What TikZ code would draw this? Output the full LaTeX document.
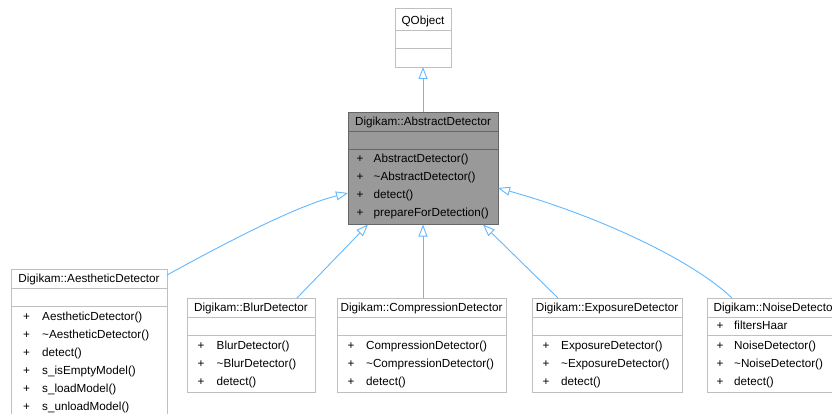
\documentclass[tikz,border=0pt]{standalone}
\usepackage{fontspec}
\setmainfont{Liberation Sans}
\usetikzlibrary{arrows.meta}
\definecolor{edgeblue}{HTML}{63B8FF}
\definecolor{lbord}{HTML}{BFBFBF}
\definecolor{dbord}{HTML}{666666}
\definecolor{dfill}{HTML}{999999}
\begin{document}
\begin{tikzpicture}[x=1pt,y=-1pt,
  font=\fontsize{11.7}{14}\selectfont,
  cls/.style={draw=lbord, fill=white, line width=0.8pt, inner sep=0pt, outer sep=0pt, anchor=north west},
  clsd/.style={cls, draw=dbord, fill=dfill},
  sepl/.style={draw=lbord, line width=0.8pt},
  sepd/.style={draw=dbord, line width=0.8pt},
  ttl/.style={inner sep=0pt, anchor=base},
  mem/.style={inner sep=0pt, anchor=base west},
  pls/.style={inner sep=0pt, anchor=base},
  inh/.style={draw=edgeblue, line width=0.9pt, -{Triangle[open, length=12pt, width=9pt]}},
]
\useasboundingbox (0,0) rectangle (832,414);
\clip (0,0) rectangle (832,414);
\fill[white] (0,0) rectangle (832,414);

% ---------- QObject ----------
\node[cls, minimum width=56, minimum height=59] (qobj) at (395,8) {};
\draw[sepl] (395,30) -- (451,30);
\draw[sepl] (395,48) -- (451,48);
\node[ttl] (qobj-t) at (423,24.5) {QObject};

% ---------- AbstractDetector ----------
\node[clsd, minimum width=150, minimum height=112.5] (abs) at (348,112) {};
\draw[sepd] (348,131) -- (498,131);
\draw[sepd] (348,149.5) -- (498,149.5);
\node[ttl] (abs-t) at (423,126) {Digikam::AbstractDetector};
\node[pls] (abs-p1) at (360,162.3) {+};
\node[mem] (abs-m1) at (373.5,162.3) {AbstractDetector()};
\node[pls] (abs-p2) at (360,180.3) {+};
\node[mem] (abs-m2) at (373.5,180.3) {\char`\~AbstractDetector()};
\node[pls] (abs-p3) at (360,198.3) {+};
\node[mem] (abs-m3) at (373.5,198.3) {detect()};
\node[pls] (abs-p4) at (360,216.3) {+};
\node[mem] (abs-m4) at (373.5,216.3) {prepareForDetection()};

% ---------- AestheticDetector ----------
\node[cls, minimum width=156, minimum height=150] (aes) at (11,269) {};
\draw[sepl] (11,288.7) -- (167,288.7);
\draw[sepl] (11,306.5) -- (167,306.5);
\node[ttl] (aes-t) at (89,282.8) {Digikam::AestheticDetector};
\node[pls] (aes-p1) at (26.5,320.5) {+};
\node[mem] (aes-m1) at (42,320.5) {AestheticDetector()};
\node[pls] (aes-p2) at (26.5,338.5) {+};
\node[mem] (aes-m2) at (42,338.5) {\char`\~AestheticDetector()};
\node[pls] (aes-p3) at (26.5,356.5) {+};
\node[mem] (aes-m3) at (42,356.5) {detect()};
\node[pls] (aes-p4) at (26.5,374.5) {+};
\node[mem] (aes-m4) at (42,374.5) {s\_isEmptyModel()};
\node[pls] (aes-p5) at (26.5,392.5) {+};
\node[mem] (aes-m5) at (42,392.5) {s\_loadModel()};
\node[pls] (aes-p6) at (26.5,410.5) {+};
\node[mem] (aes-m6) at (42,410.5) {s\_unloadModel()};

% ---------- BlurDetector ----------
\node[cls, minimum width=128, minimum height=94] (blur) at (187,298) {};
\draw[sepl] (187,317.5) -- (315,317.5);
\draw[sepl] (187,335) -- (315,335);
\node[ttl] (blur-t) at (251,311.5) {Digikam::BlurDetector};
\node[pls] (blur-p1) at (201,349.5) {+};
\node[mem] (blur-m1) at (216.5,349.5) {BlurDetector()};
\node[pls] (blur-p2) at (201,367.3) {+};
\node[mem] (blur-m2) at (216.5,367.3) {\char`\~BlurDetector()};
\node[pls] (blur-p3) at (201,385.1) {+};
\node[mem] (blur-m3) at (216.5,385.1) {detect()};

% ---------- CompressionDetector ----------
\node[cls, minimum width=169, minimum height=94] (comp) at (337,298) {};
\draw[sepl] (337,317.5) -- (506,317.5);
\draw[sepl] (337,335) -- (506,335);
\node[ttl] (comp-t) at (421.5,311.5) {Digikam::CompressionDetector};
\node[pls] (comp-p1) at (351,349.5) {+};
\node[mem] (comp-m1) at (366,349.5) {CompressionDetector()};
\node[pls] (comp-p2) at (351,367.3) {+};
\node[mem] (comp-m2) at (366,367.3) {\char`\~CompressionDetector()};
\node[pls] (comp-p3) at (351,385.1) {+};
\node[mem] (comp-m3) at (366,385.1) {detect()};

% ---------- ExposureDetector ----------
\node[cls, minimum width=150, minimum height=94] (expo) at (532,298) {};
\draw[sepl] (532,317.5) -- (682,317.5);
\draw[sepl] (532,335) -- (682,335);
\node[ttl] (expo-t) at (607,311.5) {Digikam::ExposureDetector};
\node[pls] (expo-p1) at (546,349.5) {+};
\node[mem] (expo-m1) at (561,349.5) {ExposureDetector()};
\node[pls] (expo-p2) at (546,367.3) {+};
\node[mem] (expo-m2) at (561,367.3) {\char`\~ExposureDetector()};
\node[pls] (expo-p3) at (546,385.1) {+};
\node[mem] (expo-m3) at (561,385.1) {detect()};

% ---------- NoiseDetector ----------
\node[cls, minimum width=140, minimum height=94] (noise) at (707,298) {};
\draw[sepl] (707,317.5) -- (847,317.5);
\draw[sepl] (707,335) -- (847,335);
\node[ttl] (noise-t) at (775,311.5) {Digikam::NoiseDetector};
\node[pls] (noise-p0) at (720,329.5) {+};
\node[mem] (noise-a0) at (734,329.5) {filtersHaar};
\node[pls] (noise-p1) at (720,349.5) {+};
\node[mem] (noise-m1) at (734,349.5) {NoiseDetector()};
\node[pls] (noise-p2) at (720,367.3) {+};
\node[mem] (noise-m2) at (734,367.3) {\char`\~NoiseDetector()};
\node[pls] (noise-p3) at (720,385.1) {+};
\node[mem] (noise-m3) at (734,385.1) {detect()};

% ---------- connector end points ----------
\coordinate (e-q) at (423,67);
\coordinate (e-abs-top) at (423,112);
\coordinate (e-aes) at (167,275);
\coordinate (e-abs-l) at (348,193);
\coordinate (e-blur) at (297,298);
\coordinate (e-abs-b1) at (368,224.5);
\coordinate (e-comp) at (423,298);
\coordinate (e-abs-b2) at (423,224.5);
\coordinate (e-expo) at (558,298);
\coordinate (e-abs-b3) at (483,224.5);
\coordinate (e-noise) at (732,298);
\coordinate (e-abs-r) at (498,188);

% ---------- inheritance connectors ----------
\draw[inh] (e-abs-top) -- (e-q);
\draw[inh] (e-aes) .. controls (240,235) and (300,205) .. (e-abs-l);
\draw[inh] (e-blur) -- (e-abs-b1);
\draw[inh] (e-comp) -- (e-abs-b2);
\draw[inh] (e-expo) -- (e-abs-b3);
\draw[inh] (e-noise) .. controls (690,258) and (592,214) .. (e-abs-r);
\end{tikzpicture}
\end{document}
